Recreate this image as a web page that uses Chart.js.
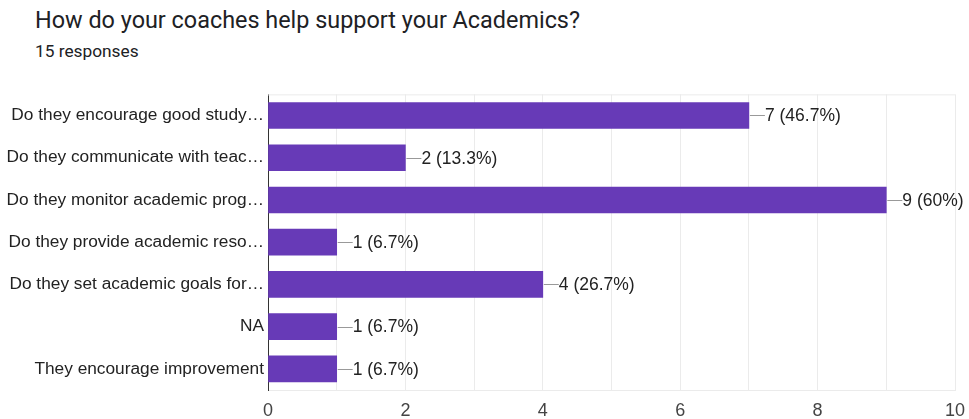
<!DOCTYPE html>
<html>
<head>
<meta charset="utf-8">
<script src="https://cdn.jsdelivr.net/npm/chart.js@4.4.0/dist/chart.umd.min.js"></script>
<style>
    body { margin: 0; background: #fff; width: 969px; height: 419px; overflow: hidden; position: relative; }
    .title { position: absolute; left: 35px; top: 6px; font-family: Roboto, Arial, sans-serif; font-size: 23.4px; color: #202124; }
    .subtitle { position: absolute; left: 35px; top: 41px; font-family: Roboto, Arial, sans-serif; font-size: 17.3px; color: #202124; }
    .chart-box { position: absolute; left: 0; top: 80px; width: 969px; height: 339px; }
</style>
</head>
<body>
<div class="title">How do your coaches help support your Academics?</div>
<div class="subtitle">15 responses</div>
<div class="chart-box"><canvas id="chart"></canvas></div>
<script>
const categories = [
    'Do they encourage good study…',
    'Do they communicate with teac…',
    'Do they monitor academic prog…',
    'Do they provide academic reso…',
    'Do they set academic goals for…',
    'NA',
    'They encourage improvement'
];
const counts = [7, 2, 9, 1, 4, 1, 1];
const percents = ['46.7%', '13.3%', '60%', '6.7%', '26.7%', '6.7%', '6.7%'];
const xTicks = [0, 2, 4, 6, 8, 10];

// draws the "—7 (46.7%)" labels next to each bar, plus the top border line
const barLabels = {
    id: 'barLabels',
    afterDraw(chart) {
        const ctx = chart.ctx;
        const area = chart.chartArea;
        ctx.save();
        ctx.strokeStyle = '#ebebeb';
        ctx.lineWidth = 1;
        ctx.beginPath();
        ctx.moveTo(area.left, area.top + 0.5);
        ctx.lineTo(area.right, area.top + 0.5);
        ctx.stroke();

        const meta = chart.getDatasetMeta(0);
        ctx.font = '17.5px "Liberation Sans", Arial, sans-serif';
        ctx.fillStyle = '#222';
        ctx.textBaseline = 'middle';
        meta.data.forEach((bar, i) => {
            const x = bar.x;
            const y = Math.round(bar.y) + 0.5;
            ctx.strokeStyle = '#999';
            ctx.beginPath();
            ctx.moveTo(x + 1, y);
            ctx.lineTo(x + 16, y);
            ctx.stroke();
            ctx.fillText(`${counts[i]} (${percents[i]})`, x + 16, bar.y + 1);
        });
        ctx.restore();
    }
};

new Chart(document.getElementById('chart'), {
    type: 'bar',
    data: {
        labels: categories,
        datasets: [{
            data: counts,
            backgroundColor: '#673ab7',
            barThickness: 26
        }]
    },
    options: {
        indexAxis: 'y',
        responsive: true,
        maintainAspectRatio: false,
        animation: false,
        layout: { padding: { top: 14, right: 14, left: 0, bottom: 0 } },
        plugins: {
            legend: { display: false },
            tooltip: { enabled: false }
        },
        scales: {
            x: {
                min: 0,
                max: 10,
                ticks: {
                    stepSize: 1,
                    autoSkip: false,
                    maxRotation: 0,
                    padding: 10,
                    color: '#444',
                    font: { family: '"Liberation Sans", Arial, sans-serif', size: 18 },
                    callback: v => xTicks.includes(v) ? String(v) : ''
                },
                grid: { color: '#ebebeb', drawTicks: false },
                border: { color: '#ebebeb' },
                afterFit: s => { s.height = 29; s.paddingRight = 0; s.paddingLeft = 0; }
            },
            y: {
                ticks: {
                    padding: 4,
                    color: '#222',
                    font: { family: '"Liberation Sans", Arial, sans-serif', size: 17.3 }
                },
                grid: { display: false, drawTicks: false },
                border: { color: '#333', width: 1 },
                afterFit: s => { s.width = 268; }
            }
        }
    },
    plugins: [barLabels]
});
</script>
</body>
</html>
